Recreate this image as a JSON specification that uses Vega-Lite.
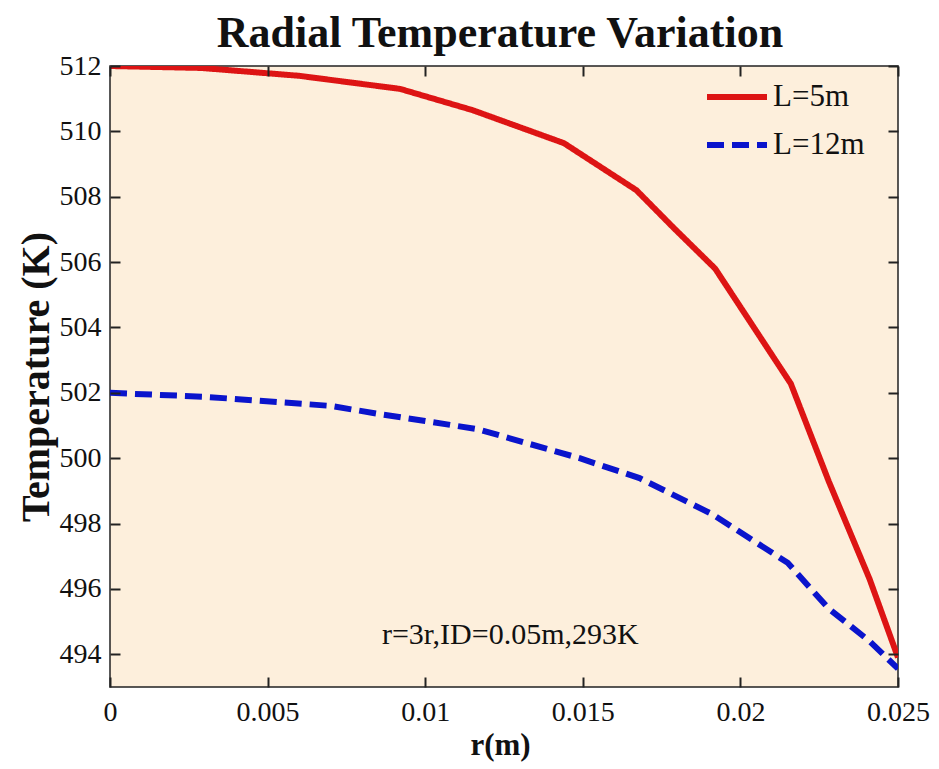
{
  "$schema": "https://vega.github.io/schema/vega-lite/v6.json",
  "autosize": "none",
  "width": 788,
  "height": 621,
  "padding": {"left": 110, "top": 66, "right": 41, "bottom": 82},
  "background": "white",
  "config": {
    "font": "Liberation Serif",
    "view": {"stroke": "#222222", "strokeWidth": 1.5, "fill": "#FDEFDC"},
    "axis": {"grid": false, "domain": false, "zindex": 1, "tickColor": "#222", "tickWidth": 2, "labelFlush": false, "labelColor": "#111", "titleColor": "#111", "labelFont": "Liberation Serif", "titleFont": "Liberation Serif"}
  },
  "title": {"text": "Radial Temperature Variation", "font": "Liberation Serif", "fontSize": 44, "fontWeight": "bold", "color": "#111", "offset": -4, "dx": -4},
  "datasets": {
    "curves": [
      {"r": 0, "T": 512.0, "L": "L=5m"},
      {"r": 0.0029, "T": 511.94, "L": "L=5m"},
      {"r": 0.006, "T": 511.7, "L": "L=5m"},
      {"r": 0.0092, "T": 511.3, "L": "L=5m"},
      {"r": 0.0115, "T": 510.65, "L": "L=5m"},
      {"r": 0.0144, "T": 509.64, "L": "L=5m"},
      {"r": 0.0167, "T": 508.2, "L": "L=5m"},
      {"r": 0.0179, "T": 507.03, "L": "L=5m"},
      {"r": 0.0192, "T": 505.8, "L": "L=5m"},
      {"r": 0.0216, "T": 502.28, "L": "L=5m"},
      {"r": 0.0228, "T": 499.3, "L": "L=5m"},
      {"r": 0.0241, "T": 496.3, "L": "L=5m"},
      {"r": 0.025, "T": 493.9, "L": "L=5m"},
      {"r": 0, "T": 502.0, "L": "L=12m"},
      {"r": 0.003, "T": 501.88, "L": "L=12m"},
      {"r": 0.0053, "T": 501.72, "L": "L=12m"},
      {"r": 0.007, "T": 501.6, "L": "L=12m"},
      {"r": 0.0085, "T": 501.36, "L": "L=12m"},
      {"r": 0.01, "T": 501.14, "L": "L=12m"},
      {"r": 0.0117, "T": 500.88, "L": "L=12m"},
      {"r": 0.0149, "T": 500.0, "L": "L=12m"},
      {"r": 0.0168, "T": 499.39, "L": "L=12m"},
      {"r": 0.0191, "T": 498.29, "L": "L=12m"},
      {"r": 0.0215, "T": 496.8, "L": "L=12m"},
      {"r": 0.0228, "T": 495.4, "L": "L=12m"},
      {"r": 0.0241, "T": 494.4, "L": "L=12m"},
      {"r": 0.025, "T": 493.56, "L": "L=12m"}
    ],
    "note": [
      {"r": 0.0127, "T": 494.6, "label": "r=3r,ID=0.05m,293K"}
    ]
  },
  "layer": [
    {
      "data": {"name": "curves"},
      "mark": {"type": "line", "strokeWidth": 6, "clip": true},
      "encoding": {
        "x": {"field": "r", "type": "quantitative", "scale": {"domain": [0, 0.025], "nice": false, "zero": false},
          "axis": {"orient": "bottom", "zindex": 1, "values": [0, 0.005, 0.01, 0.015, 0.02, 0.025], "format": "~g", "tickSize": -10, "labelPadding": 21, "labelFontSize": 28, "labelFont": "Liberation Serif", "title": "r(m)", "titleFontSize": 31, "titleFontWeight": "bold", "titlePadding": 4, "titleX": 390}},
        "y": {"field": "T", "type": "quantitative", "scale": {"domain": [493, 512], "nice": false, "zero": false},
          "axis": {"orient": "left", "zindex": 1, "values": [494, 496, 498, 500, 502, 504, 506, 508, 510, 512], "tickSize": -10, "labelPadding": 19, "labelFontSize": 28, "labelFont": "Liberation Serif", "title": "Temperature (K)", "titleFontSize": 40, "titleFontWeight": "bold", "titlePadding": 3}},
        "color": {"field": "L", "type": "nominal", "scale": {"domain": ["L=5m", "L=12m"], "range": ["#DD1414", "#0A14CC"]},
          "legend": {"title": null, "orient": "none", "legendX": 594, "legendY": -2, "symbolType": "stroke", "symbolSize": 3600, "symbolStrokeWidth": 6, "labelFontSize": 31, "labelFont": "Liberation Serif", "labelColor": "#111", "labelOffset": 3, "rowPadding": 0, "labelLimit": 200}},
        "strokeDash": {"field": "L", "type": "nominal", "scale": {"domain": ["L=5m", "L=12m"], "range": [[1, 0], [17, 8]]}, "legend": {"title": null, "orient": "none", "legendX": 594, "legendY": -2, "symbolType": "stroke", "symbolSize": 3600, "symbolStrokeWidth": 6, "labelFontSize": 31, "labelFont": "Liberation Serif", "labelColor": "#111", "labelOffset": 3, "rowPadding": 0, "labelLimit": 200}}
      }
    },
    {
      "data": {"name": "note"},
      "mark": {"type": "text", "fontSize": 30, "font": "Liberation Serif", "color": "#111", "align": "center", "baseline": "middle"},
      "encoding": {
        "x": {"field": "r", "type": "quantitative", "scale": {"domain": [0, 0.025], "nice": false, "zero": false}, "axis": {"orient": "top", "zindex": 1, "values": [0, 0.005, 0.01, 0.015, 0.02, 0.025], "tickSize": -10, "labels": false, "title": null}},
        "y": {"field": "T", "type": "quantitative", "scale": {"domain": [493, 512], "nice": false, "zero": false}, "axis": {"orient": "right", "zindex": 1, "values": [494, 496, 498, 500, 502, 504, 506, 508, 510, 512], "tickSize": -10, "labels": false, "title": null}},
        "text": {"field": "label"}
      }
    }
  ],
  "resolve": {"axis": {"x": "independent", "y": "independent"}}
}
